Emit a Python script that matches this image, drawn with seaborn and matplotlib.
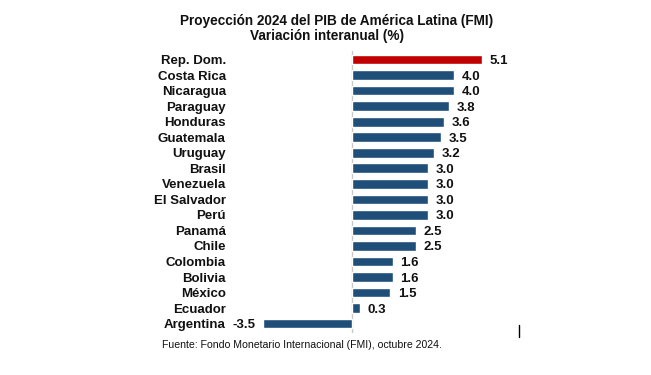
#!/usr/bin/env python3
# -*- coding: utf-8 -*-

import matplotlib
matplotlib.use("Agg")
import matplotlib.pyplot as plt
import seaborn as sns

# Data (FMI, octubre 2024)
countries = ["Rep. Dom.", "Costa Rica", "Nicaragua", "Paraguay", "Honduras",
             "Guatemala", "Uruguay", "Brasil", "Venezuela", "El Salvador",
             "Perú", "Panamá", "Chile", "Colombia", "Bolivia", "México",
             "Ecuador", "Argentina"]
growth = [5.1, 4.0, 4.0, 3.8, 3.6, 3.5, 3.2, 3.0, 3.0, 3.0,
          3.0, 2.5, 2.5, 1.6, 1.6, 1.5, 0.3, -3.5]

BLUE = "#1F4E79"
RED = "#C00000"
colors = [RED if c == "Rep. Dom." else BLUE for c in countries]

sns.set_style("white")
plt.rcParams["font.family"] = ["Liberation Sans", "DejaVu Sans"]

W, H = 651, 375
fig = plt.figure(figsize=(W / 100, H / 100), dpi=100)
# axes placed in pixel terms: left 230, right 510, top 51, bottom 333
ax = fig.add_axes([230 / W, (H - 333) / H, 280 / W, 282 / H])

sns.barplot(x=growth, y=countries, hue=countries, palette=colors,
            legend=False, width=0.62, saturation=1, ax=ax)

ax.set_xlim((230 - 352.3) / 25.4, (510 - 352.3) / 25.4)
ax.set_ylim(17.6, -0.55)
ax.axvline(0, color="#C8C8C8", lw=1.0, zorder=0)

for cont in ax.containers:
    labels = ax.bar_label(cont, fmt="%.1f", padding=5.5, fontsize=9.5,
                          fontweight="bold", color="#111111")
    for t in labels:
        # the original sits its numbers a touch below the bar centre
        t.set_y(t.get_position()[1])
        t.set_va("center_baseline")

ax.set_xticks([])
ax.tick_params(axis="y", length=0, pad=3)
for lab in ax.get_yticklabels():
    lab.set_fontweight("bold")
    lab.set_fontsize(9.5)
    lab.set_color("#111111")
ax.set_xlabel("")
ax.set_ylabel("")
sns.despine(ax=ax, left=True, bottom=True)

fig.text(337 / W, 1 - 21 / H, "Proyección 2024 del PIB de América Latina (FMI)",
         ha="center", va="center", fontsize=9.8, fontweight="bold", color="#111111")
fig.text(327 / W, 1 - 36 / H, "Variación interanual (%)",
         ha="center", va="center", fontsize=9.8, fontweight="bold", color="#111111")
fig.text(162 / W, 1 - 345 / H,
         "Fuente: Fondo Monetario Internacional (FMI), octubre 2024.",
         ha="left", va="center", fontsize=7.6, color="#111111")

# small stray mark at bottom right of the original
fig.add_artist(plt.Line2D([519 / W, 519 / W], [1 - 325 / H, 1 - 337 / H],
                          color="black", lw=1.0))

fig.savefig("out.png", dpi=100)
